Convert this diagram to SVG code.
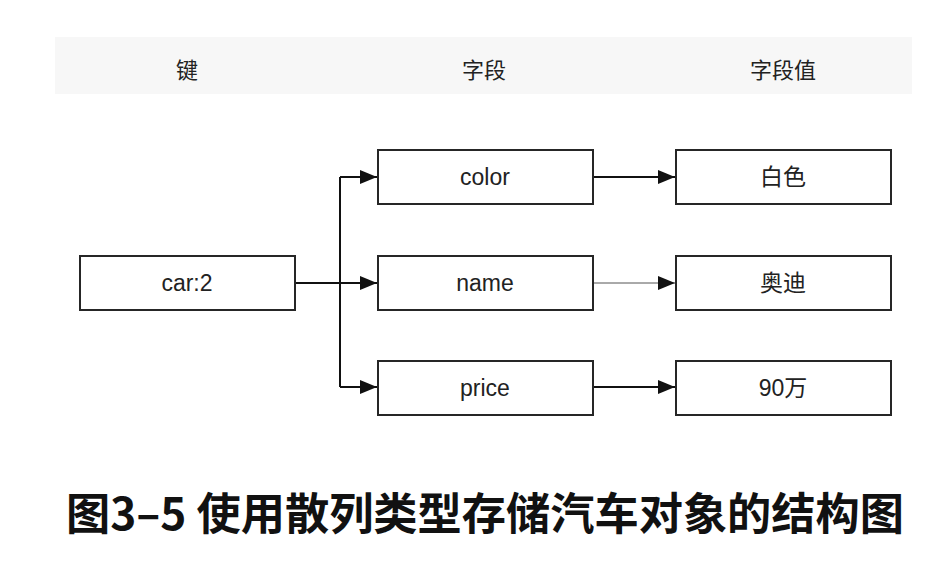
<svg xmlns="http://www.w3.org/2000/svg" width="932" height="564" viewBox="0 0 932 564">
<style>
.box{fill:#fff;stroke:#262626;stroke-width:2}
.lbl{font-family:"Liberation Sans","Noto Sans CJK SC",sans-serif;font-size:23px;fill:#222;text-anchor:middle}
.hdr{font-family:"Noto Sans CJK SC","Noto Sans",sans-serif;font-size:22px;fill:#222;text-anchor:middle}
.ln{fill:none;stroke:#111;stroke-width:2}
.ln.thin{stroke:#555;stroke-width:1}
</style>
<defs>
<marker id="ah" markerUnits="userSpaceOnUse" markerWidth="18" markerHeight="16" refX="17" refY="8" orient="auto">
<path d="M0,1 L17,8 L0,15 Z" fill="#111"/>
</marker>
</defs>
<rect width="932" height="564" fill="#fff"/>
<rect x="55" y="37" width="857" height="57" fill="#f7f7f7"/>
<g id="headers">
<text class="hdr" x="187" y="78">键</text>
<text class="hdr" x="484" y="78">字段</text>
<text class="hdr" x="783" y="78">字段值</text>
</g>
<g id="connectors">
<path class="ln" d="M295,283 L377,283" marker-end="url(#ah)"/>
<path class="ln" d="M340,177 L340,387"/>
<path class="ln" d="M340,177 L377,177" marker-end="url(#ah)"/>
<path class="ln" d="M340,387 L377,387" marker-end="url(#ah)"/>
<path class="ln" d="M593,177 L675,177" marker-end="url(#ah)"/>
<path class="ln thin" d="M593,283 L675,283" marker-end="url(#ah)"/>
<path class="ln" d="M593,387 L675,387" marker-end="url(#ah)"/>
</g>
<g id="car2"><rect class="box" x="80" y="256" width="215" height="54"/><text class="lbl" x="187" y="291">car:2</text></g>
<g id="color"><rect class="box" x="378" y="150" width="215" height="54"/><text class="lbl" x="485" y="185">color</text></g>
<g id="name"><rect class="box" x="378" y="256" width="215" height="54"/><text class="lbl" x="485" y="291">name</text></g>
<g id="price"><rect class="box" x="378" y="361" width="215" height="54"/><text class="lbl" x="485" y="396">price</text></g>
<g id="white"><rect class="box" x="676" y="150" width="215" height="54"/><text class="lbl" x="783" y="185">白色</text></g>
<g id="audi"><rect class="box" x="676" y="256" width="215" height="54"/><text class="lbl" x="783" y="291">奥迪</text></g>
<g id="price90"><rect class="box" x="676" y="361" width="215" height="54"/><text class="lbl" x="783" y="396">90万</text></g>
<text x="485" y="530" text-anchor="middle" font-family="'Noto Sans CJK SC','Liberation Sans',sans-serif" font-weight="bold" font-size="44" textLength="838" lengthAdjust="spacingAndGlyphs" fill="#111">图3–5 使用散列类型存储汽车对象的结构图</text>
</svg>
